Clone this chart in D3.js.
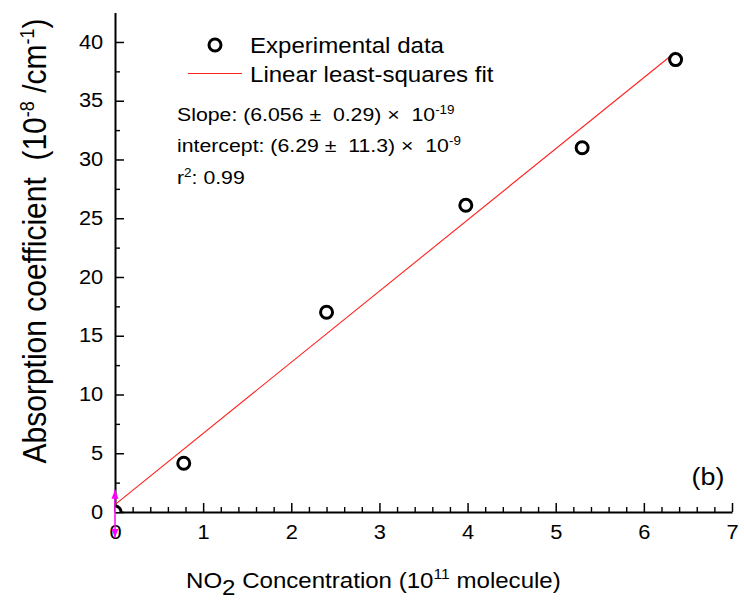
<!DOCTYPE html>
<html>
<head>
<meta charset="utf-8">
<script src="https://cdn.jsdelivr.net/npm/d3@7"></script>
<style>
    body { margin: 0; background: #fff; }
    text { font-family: Arial, "Liberation Sans", sans-serif; fill: #000; white-space: pre; }
</style>
</head>
<body>
<div id="chart"></div>
<script>
// data (x in 10^11 molecule, y in 10^-8 /cm^-1)
const concentration = [0, 0.78, 2.40, 3.98, 5.30, 6.36];
const absorption = [0, 4.15, 17.0, 26.1, 31.0, 38.5];
const fitSlope = 6.056;
const fitIntercept = 0.629;
const originError = [-2.2, 1.9];
const xTicks = [0, 1, 2, 3, 4, 5, 6, 7];
const yTicks = [0, 5, 10, 15, 20, 25, 30, 35, 40];
const legendLabels = ["Experimental data", "Linear least-squares fit"];

// text in the original is a bit wider than it is tall
const SX = 1.12;

const width = 744, height = 606;
const margin = { top: 12.6, left: 115, right: 12, bottom: 94 };

const svg = d3.select("#chart")
    .append("svg")
    .attr("width", width)
    .attr("height", height);

const xScale = d3.scaleLinear()
    .domain([0, 7])
    .range([margin.left, width - margin.right]);
const yScale = d3.scaleLinear()
    .domain([0, 42.5])
    .range([height - margin.bottom, margin.top]);

function stext(parent, x, y, size, anchor) {
    return parent.append("text")
        .attr("transform", `translate(${x},${y}) scale(${SX},1)`)
        .attr("font-size", size)
        .attr("text-anchor", anchor || "start");
}

// minor ticks
const xMinor = d3.range(0, 7.001, 0.2).filter((d) => Math.abs(d - Math.round(d)) > 0.01);
const yMinor = d3.range(2.5, 42.5, 5);

svg.append("g")
    .attr("transform", `translate(0,${yScale(0)})`)
    .call(d3.axisBottom(xScale).tickValues(xMinor).tickSize(-5).tickSizeOuter(0).tickFormat(""))
    .call((g) => g.select(".domain").remove())
    .selectAll("line").attr("stroke-width", 1.4);
svg.append("g")
    .attr("transform", `translate(${xScale(0)},0)`)
    .call(d3.axisLeft(yScale).tickValues(yMinor).tickSize(-5).tickSizeOuter(0).tickFormat(""))
    .call((g) => g.select(".domain").remove())
    .selectAll("line").attr("stroke-width", 1.4);

// major axes
const xAxis = svg.append("g")
    .attr("transform", `translate(0,${yScale(0)})`)
    .call(d3.axisBottom(xScale).tickValues(xTicks).tickFormat((d) => d)
        .tickSize(-9).tickSizeOuter(0).tickPadding(13));
const yAxis = svg.append("g")
    .attr("transform", `translate(${xScale(0)},0)`)
    .call(d3.axisLeft(yScale).tickValues(yTicks).tickFormat((d) => d)
        .tickSize(-9).tickSizeOuter(0).tickPadding(10.5));

[xAxis, yAxis].forEach((ax) => {
    ax.select(".domain").attr("stroke-width", 2);
    ax.selectAll(".tick line").attr("stroke-width", 1.5);
    ax.selectAll(".tick text")
        .attr("font-size", 19.5)
        .attr("font-family", "Arial, 'Liberation Sans', sans-serif")
        .attr("transform", `scale(${SX},1)`);
});

// fit line
const line = d3.line().x((d) => xScale(d)).y((d) => yScale(fitIntercept + fitSlope * d));
svg.append("path")
    .attr("fill", "none")
    .attr("stroke", "#ff2020")
    .attr("stroke-width", 1.1)
    .attr("d", line([0, d3.max(concentration)]));

// clip markers to plot area
svg.append("clipPath").attr("id", "plot-clip")
    .append("rect")
    .attr("x", xScale(0))
    .attr("y", yScale(42.5))
    .attr("width", xScale(7) - xScale(0))
    .attr("height", yScale(0) - yScale(42.5));

svg.append("g")
    .attr("clip-path", "url(#plot-clip)")
    .selectAll("circle")
    .data(concentration.map((x, i) => ({ x, y: absorption[i] })))
    .enter()
    .append("circle")
    .attr("cx", (d) => xScale(d.x))
    .attr("cy", (d) => yScale(d.y))
    .attr("r", 6)
    .attr("fill", "#fff")
    .attr("stroke", "#000")
    .attr("stroke-width", 3);

// magenta error bar at the origin
const defs = svg.append("defs");
defs.append("marker")
    .attr("id", "arrow")
    .attr("viewBox", "0 -4 9 8")
    .attr("refX", 9)
    .attr("refY", 0)
    .attr("markerWidth", 9)
    .attr("markerHeight", 8)
    .attr("markerUnits", "userSpaceOnUse")
    .attr("orient", "auto-start-reverse")
    .append("path")
    .attr("d", "M0,-3.5L9,0L0,3.5Z")
    .attr("fill", "#ff00ff");
svg.append("line")
    .attr("x1", xScale(0)).attr("x2", xScale(0))
    .attr("y1", yScale(originError[0])).attr("y2", yScale(originError[1]))
    .attr("stroke", "#ff00ff")
    .attr("stroke-width", 1.5)
    .attr("marker-start", "url(#arrow)")
    .attr("marker-end", "url(#arrow)");

// legend
svg.append("circle")
    .attr("cx", 215).attr("cy", 45).attr("r", 6)
    .attr("fill", "#fff").attr("stroke", "#000").attr("stroke-width", 3);
stext(svg, 250, 53, 21.5).text(legendLabels[0]);
svg.append("line")
    .attr("x1", 188).attr("x2", 242).attr("y1", 73.5).attr("y2", 73.5)
    .attr("stroke", "#ff2020").attr("stroke-width", 1.1);
stext(svg, 250, 81.5, 21.5).text(legendLabels[1]);

// fit results
function withSup(t, main, sup, after, supSize, raise) {
    t.append("tspan").text(main);
    t.append("tspan").attr("dy", -raise).attr("font-size", supSize).text(sup);
    t.append("tspan").attr("dy", raise).text(after || "");
}
withSup(stext(svg, 177, 121, 19), "Slope: (6.056 \u00b1  0.29) \u00d7  10", "-19", "", 12, 7);
withSup(stext(svg, 177, 151.5, 19), "intercept: (6.29 \u00b1  11.3) \u00d7  10", "-9", "", 12, 7);
withSup(stext(svg, 177, 184, 19), "r", "2", ": 0.99", 12, 7);

// panel tag
stext(svg, 708, 485, 24, "middle").text("(b)");

// y axis title
const yTitle = svg.append("text")
    .attr("transform", `translate(46,241) scale(${SX},1) rotate(-90)`)
    .attr("font-size", 30)
    .attr("text-anchor", "middle");
yTitle.append("tspan").text("Absorption coefficient  (10");
yTitle.append("tspan").attr("dy", -11).attr("font-size", 18).text("-8");
yTitle.append("tspan").attr("dy", 11).text(" /cm");
yTitle.append("tspan").attr("dy", -11).attr("font-size", 18).text("-1");
yTitle.append("tspan").attr("dy", 11).text(")");

// x axis title
const xTitle = stext(svg, 186, 588, 21.5);
xTitle.append("tspan").text("NO");
xTitle.append("tspan").attr("dy", 7).text("2");
xTitle.append("tspan").attr("dy", -7).text(" Concentration (10");
xTitle.append("tspan").attr("dy", -9).attr("font-size", 14).text("11");
xTitle.append("tspan").attr("dy", 9).text(" molecule)");
</script>
</body>
</html>
